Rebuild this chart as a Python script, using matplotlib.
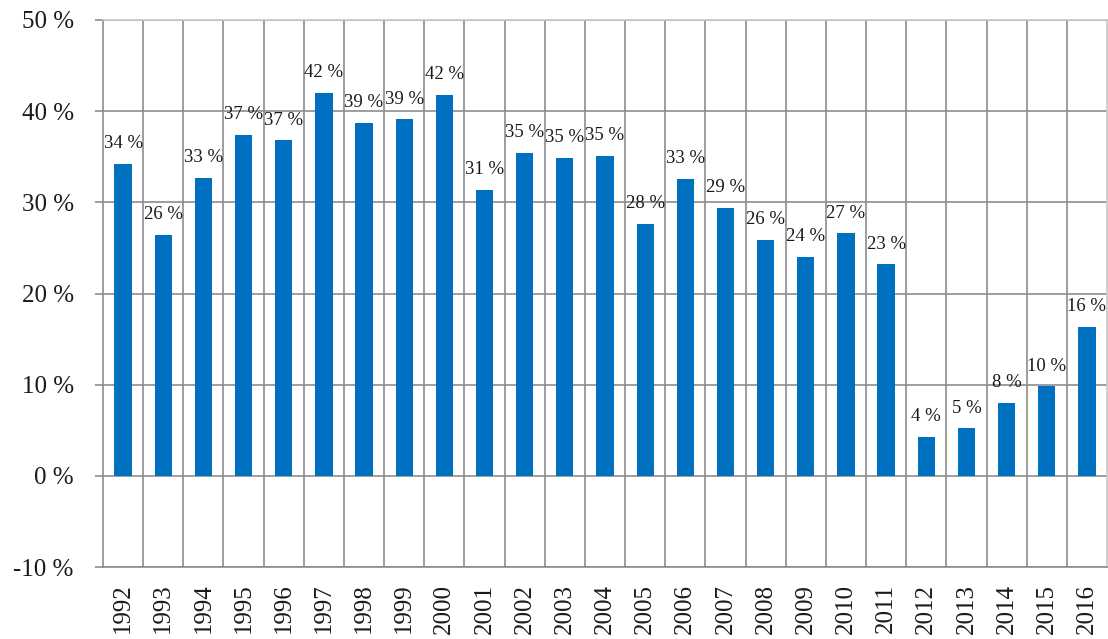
import matplotlib
matplotlib.use("Agg")
import matplotlib.pyplot as plt
import numpy as np
from matplotlib.ticker import FixedLocator, FuncFormatter

years = [str(y) for y in range(1992, 2017)]
shares = [34.2, 26.4, 32.7, 37.4, 36.8, 42.0, 38.7, 39.1, 41.8, 31.4,
          35.4, 34.9, 35.1, 27.6, 32.6, 29.4, 25.9, 24.0, 26.6, 23.2,
          4.3, 5.2, 8.0, 9.8, 16.3]
y_ticks = [-10, 0, 10, 20, 30, 40, 50]

bar_color = "#0070C0"
grid_color = "#8c8c8c"
light_color = "#c8c8c8"

plt.rcParams["font.family"] = ["Liberation Serif", "DejaVu Serif"]

fig = plt.figure(figsize=(11.08, 6.39), dpi=100)
ax = fig.add_axes([103 / 1108, 1 - 567 / 639, (1107 - 103) / 1108, (567 - 20) / 639])

x = np.arange(len(years))
ax.bar(x, shares, width=0.43, color=bar_color, zorder=3)

for xi, v in zip(x, shares):
    ax.annotate(f"{round(v)} %", (xi, v), xytext=(0, 8.5), textcoords="offset points",
                ha="center", va="bottom", fontsize=13.5, color="#1a1a1a", zorder=4)

ax.set_xlim(-0.5, len(years) - 0.5)
ax.set_ylim(-10, 50)

ax.yaxis.set_major_locator(FixedLocator(y_ticks))
ax.yaxis.set_major_formatter(FuncFormatter(lambda v, p: f"{int(v)} %"))
ax.set_xticks(x)
ax.set_xticklabels(years, rotation=90)
ax.set_xticks(x[:-1] + 0.5, minor=True)

ax.grid(axis="y", which="major", color=grid_color, linewidth=1.2, zorder=1)
ax.grid(axis="x", which="minor", color=grid_color, linewidth=1.2, zorder=1)

ax.tick_params(axis="y", length=6, width=1.2, color=grid_color, labelsize=18, pad=15,
               labelcolor="#1a1a1a")
ax.tick_params(axis="x", which="both", length=0, labelsize=18, pad=12, labelcolor="#1a1a1a")

for side in ["left", "bottom"]:
    ax.spines[side].set_color(grid_color)
    ax.spines[side].set_linewidth(1.2)
for side in ["top", "right"]:
    ax.spines[side].set_color(light_color)
    ax.spines[side].set_linewidth(1.2)

fig.savefig("out.png", dpi=100, facecolor="white")
